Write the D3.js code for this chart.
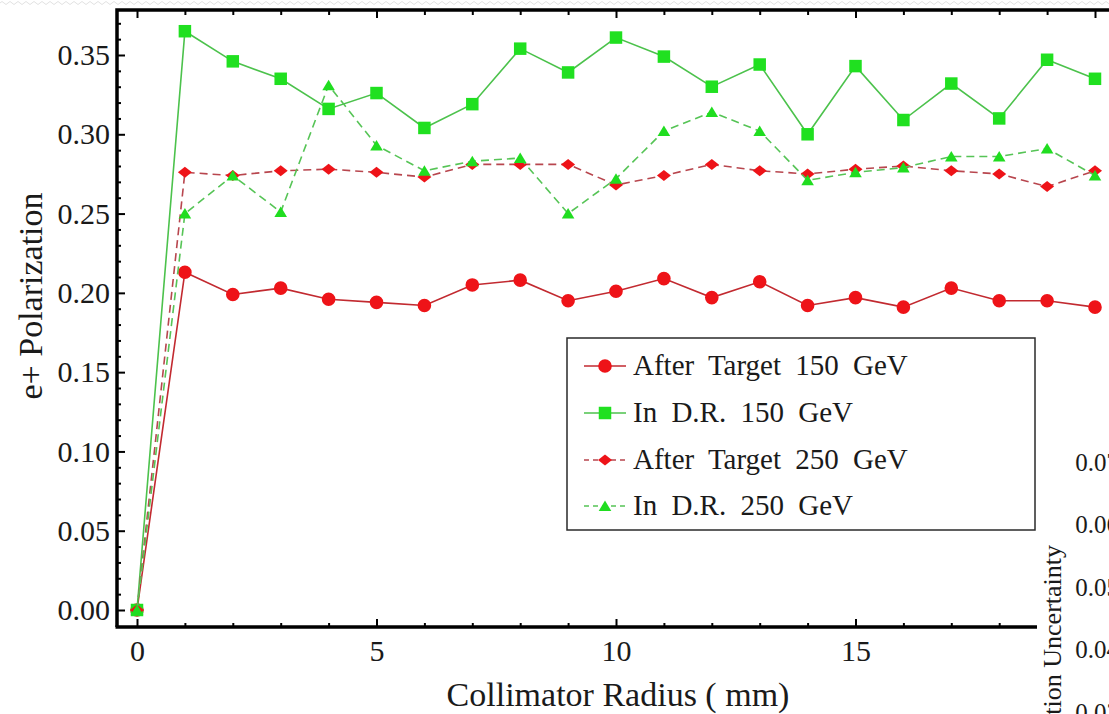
<!DOCTYPE html>
<html>
<head>
<meta charset="utf-8">
<script src="https://cdn.jsdelivr.net/npm/d3@7"></script>
<style>
  html, body { margin: 0; padding: 0; background: #fff; }
  svg { display: block; }
  text { font-family: "Liberation Serif", "Times New Roman", serif; fill: #1a1a1a; }
</style>
</head>
<body>
<svg id="chart" width="1109" height="714"></svg>
<script>
// Collimator radius (mm)
const radius = [0, 1, 2, 3, 4, 5, 6, 7, 8, 9, 10, 11, 12, 13, 14, 15, 16, 17, 18, 19, 20];

// e+ polarization for each configuration
const afterTarget150 = [0, 0.213, 0.199, 0.203, 0.196, 0.194, 0.192, 0.205, 0.208, 0.195, 0.201, 0.209, 0.197, 0.207, 0.192, 0.197, 0.191, 0.203, 0.195, 0.195, 0.191];
const inDR150        = [0, 0.365, 0.346, 0.335, 0.316, 0.326, 0.304, 0.319, 0.354, 0.339, 0.361, 0.349, 0.330, 0.344, 0.300, 0.343, 0.309, 0.332, 0.310, 0.347, 0.335];
const afterTarget250 = [0, 0.276, 0.274, 0.277, 0.278, 0.276, 0.273, 0.281, 0.281, 0.281, 0.268, 0.274, 0.281, 0.277, 0.275, 0.278, 0.280, 0.277, 0.275, 0.267, 0.277];
const inDR250        = [0, 0.250, 0.274, 0.251, 0.331, 0.293, 0.277, 0.283, 0.285, 0.250, 0.272, 0.302, 0.314, 0.302, 0.271, 0.276, 0.279, 0.286, 0.286, 0.291, 0.274];

const seriesNames = ["After Target 150 GeV", "In D.R. 150 GeV", "After Target 250 GeV", "In D.R. 250 GeV"];

// Axis ticks
const yMajorTicks = [0, 0.05, 0.10, 0.15, 0.20, 0.25, 0.30, 0.35];
const xMajorTicks = [0, 5, 10, 15, 20];

// Tick labels of the neighbouring uncertainty panel
const sideTicks = [0.03, 0.04, 0.05, 0.06, 0.07];

const svg = d3.select("#chart");

// Frame geometry
const frameLeft = 117, frameTop = 10, frameBottom = 627, frameRight = 1125;

const x = d3.scaleLinear().domain([0, 20]).range([137, 1095]);
const y = d3.scaleLinear().domain([0, 0.35]).range([610, 55]);

const yMinor = d3.range(-0.01, 0.38, 0.01).map(v => Math.round(v * 100) / 100)
  .filter(v => yMajorTicks.indexOf(v) < 0 && y(v) > frameTop + 2 && y(v) < frameBottom - 2);
const xMinor = d3.range(0, 21).filter(v => xMajorTicks.indexOf(v) < 0);

// torn-edge wave along the top border
const wave = d3.path();
wave.moveTo(0, 3);
for (let px = 0; px < 1109; px += 8) {
  wave.quadraticCurveTo(px + 2, 0, px + 4, 3);
  wave.quadraticCurveTo(px + 6, 6, px + 8, 3);
}
svg.append("path").attr("d", wave.toString()).attr("fill", "none")
  .attr("stroke", "#e2e2e2").attr("stroke-width", 1);

// Plot area clip
svg.append("clipPath").attr("id", "plotClip")
  .append("rect").attr("x", frameLeft).attr("y", frameTop)
  .attr("width", frameRight - frameLeft).attr("height", frameBottom - frameTop);

// Axes
function styleAxis(g) {
  g.select(".domain").remove();
  g.selectAll(".tick line").attr("stroke", "#000").attr("stroke-width", 2);
  g.selectAll(".tick text").attr("font-size", 30).attr("fill", "#1a1a1a")
    .attr("font-family", "Liberation Serif, serif");
}

// left
svg.append("g").attr("transform", `translate(${frameLeft},0)`)
  .call(d3.axisLeft(y).tickValues(yMajorTicks).tickFormat(d3.format(".2f")).tickSize(-8).tickPadding(7))
  .call(styleAxis);
svg.append("g").attr("transform", `translate(${frameLeft},0)`)
  .call(d3.axisLeft(y).tickValues(yMinor).tickFormat("").tickSize(-4))
  .call(styleAxis);

// bottom
svg.append("g").attr("transform", `translate(0,${frameBottom})`)
  .call(d3.axisBottom(x).tickValues(xMajorTicks).tickFormat(d3.format("d")).tickSize(-8).tickPadding(13))
  .call(styleAxis);
svg.append("g").attr("transform", `translate(0,${frameBottom})`)
  .call(d3.axisBottom(x).tickValues(xMinor).tickFormat("").tickSize(-4))
  .call(styleAxis);

// top
svg.append("g").attr("transform", `translate(0,${frameTop})`)
  .call(d3.axisTop(x).tickValues(xMajorTicks).tickFormat("").tickSize(-8))
  .call(styleAxis);
svg.append("g").attr("transform", `translate(0,${frameTop})`)
  .call(d3.axisTop(x).tickValues(xMinor).tickFormat("").tickSize(-5))
  .call(styleAxis);

// Frame lines
svg.append("path")
  .attr("d", `M${frameLeft},${frameBottom} L${frameLeft},${frameTop} L${frameRight},${frameTop}`)
  .attr("fill", "none").attr("stroke", "#000").attr("stroke-width", 3.5);
svg.append("line").attr("x1", frameLeft - 1.5).attr("x2", frameRight)
  .attr("y1", frameBottom).attr("y2", frameBottom)
  .attr("stroke", "#000").attr("stroke-width", 3.5);

// Axis titles
svg.append("text").attr("x", 618).attr("y", 706).attr("text-anchor", "middle")
  .attr("font-size", 34).attr("fill", "#222").text("Collimator Radius ( mm)");
svg.append("text").attr("transform", "translate(42,296) rotate(-90)")
  .attr("text-anchor", "middle").attr("font-size", 34).attr("fill", "#222")
  .text("e+ Polarization");

// Markers
const markerPaths = {
  circle: d3.symbol().type(d3.symbolCircle).size(Math.PI * 6.8 * 6.8)(),
  square: d3.symbol().type(d3.symbolSquare).size(12.5 * 12.5)(),
  diamond: "M0,-5.5L7,0L0,5.5L-7,0Z",
  triangle: "M0,-5.5L6.3,5L-6.3,5Z"
};

const series = [
  { name: seriesNames[0], values: afterTarget150, line: "#c22a30", fill: "#ee1318", marker: "circle", dash: null },
  { name: seriesNames[1], values: inDR150, line: "#4cc24c", fill: "#20e020", marker: "square", dash: null },
  { name: seriesNames[2], values: afterTarget250, line: "#b8464e", fill: "#ee1318", marker: "diamond", dash: "8,5" },
  { name: seriesNames[3], values: inDR250, line: "#56c456", fill: "#20dd20", marker: "triangle", dash: "8,5" }
];

const plot = svg.append("g").attr("clip-path", "url(#plotClip)");
const lineGen = d3.line().x((d, i) => x(radius[i])).y(d => y(d));

series.forEach(s => {
  const g = plot.append("g");
  g.append("path").datum(s.values).attr("d", lineGen)
    .attr("fill", "none").attr("stroke", s.line).attr("stroke-width", 1.6)
    .attr("stroke-dasharray", s.dash);
  g.selectAll("path.mk").data(s.values).join("path").attr("class", "mk")
    .attr("d", markerPaths[s.marker])
    .attr("transform", (d, i) => `translate(${x(radius[i])},${y(d)})`)
    .attr("fill", s.fill);
});

// Legend
const legend = svg.append("g");
legend.append("rect").attr("x", 567).attr("y", 338).attr("width", 468).attr("height", 192)
  .attr("fill", "#fff").attr("stroke", "#2a2a2a").attr("stroke-width", 1.5);
const legendRowY = [366, 413, 460, 506];
series.forEach((s, i) => {
  const cy = legendRowY[i];
  legend.append("line").attr("x1", 584).attr("x2", 626).attr("y1", cy).attr("y2", cy)
    .attr("stroke", s.line).attr("stroke-width", 1.6).attr("stroke-dasharray", s.dash ? "5,4" : null);
  legend.append("path").attr("d", markerPaths[s.marker])
    .attr("transform", `translate(605,${cy})`).attr("fill", s.fill);
  legend.append("text").attr("x", 633).attr("y", cy + 9)
    .attr("font-size", 29).attr("word-spacing", 7).attr("fill", "#1a1a1a")
    .text(s.name);
});

// Neighbouring uncertainty panel overlapping the lower right corner
const side = svg.append("g");
side.append("rect").attr("x", 1037).attr("y", 332).attr("width", 80).attr("height", 390).attr("fill", "#fff");
const ySide = d3.scaleLinear().domain([0.03, 0.07]).range([712, 462]);
side.append("g").attr("transform", "translate(1126,0)")
  .call(d3.axisLeft(ySide).tickValues(sideTicks).tickFormat(d3.format(".2f")).tickSize(0).tickPadding(7))
  .call(g => {
    g.select(".domain").remove();
    g.selectAll(".tick text").attr("font-size", 25).attr("fill", "#222")
      .attr("font-family", "Liberation Serif, serif");
  });
side.append("text").attr("transform", "translate(1061,545) rotate(-90)")
  .attr("text-anchor", "end").attr("font-size", 26).attr("fill", "#222")
  .text("e+ Polarization Uncertainty");
</script>
</body>
</html>
